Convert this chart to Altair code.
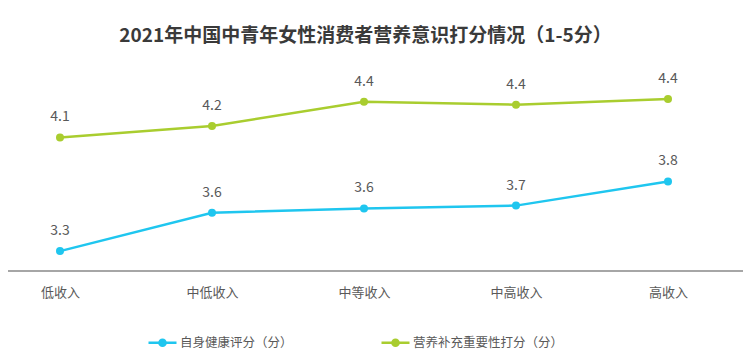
import altair as alt
import pandas as pd

categories = ["低收入", "中低收入", "中等收入", "中高收入", "高收入"]
series_names = ["自身健康评分（分）", "营养补充重要性打分（分）"]
health_scores = [3.34, 3.61, 3.64, 3.66, 3.83]
importance_scores = [4.14, 4.22, 4.39, 4.37, 4.41]
colors = ["#1FC6EF", "#A9CD2F"]

rows = []
for name, vals in zip(series_names, [health_scores, importance_scores]):
    for c, v in zip(categories, vals):
        rows.append({"收入": c, "系列": name, "分数": v})
df = pd.DataFrame(rows)

W, H = 735, 199
FONT = "Noto Sans CJK SC"

x = alt.X("收入:N", sort=categories,
          scale=alt.Scale(type="point", range=[52, 660], padding=0),
          axis=alt.Axis(title=None, domain=False, ticks=False, labelAngle=0,
                        labelFontSize=13, labelColor="#595959", labelFont=FONT,
                        labelPadding=15))
y = alt.Y("分数:Q", scale=alt.Scale(domain=[3.2, 4.6], nice=False, zero=False), axis=None)

legend_path = "M-1,0L1,0M-0.22,0a0.22,0.22 0 1,0 0.44,0a0.22,0.22 0 1,0 -0.44,0"
color = alt.Color("系列:N", sort=series_names,
                  scale=alt.Scale(domain=series_names, range=colors),
                  legend=alt.Legend(title=None, orient="none", direction="horizontal",
                                    legendX=139, legendY=255, padding=0,
                                    symbolType=legend_path, symbolSize=784,
                                    symbolStrokeWidth=2.5,
                                    labelFontSize=12.5, labelColor="#595959",
                                    labelFont=FONT, labelOffset=2,
                                    columnPadding=83))

base = alt.Chart(df).encode(x=x, y=y, color=color)
lines = base.mark_line(strokeWidth=2.5)
points = base.mark_point(filled=True, size=64, opacity=1)
labels = alt.Chart(df).mark_text(dy=-20, fontSize=14, font=FONT, color="#595959").encode(
    x=x, y=y, detail="系列:N", text=alt.Text("分数:Q", format=".1f"))

baseline = alt.Chart(pd.DataFrame({"a": [0]})).mark_rule(
    color="#A6A6A6", strokeWidth=2).encode(
    x=alt.value(0), x2=alt.value(W), y=alt.value(H))

chart = alt.layer(lines, points, labels, baseline).properties(
    width=W, height=H,
    title=alt.TitleParams("2021年中国中青年女性消费者营养意识打分情况（1-5分）",
                          fontSize=19, fontWeight="bold", font=FONT, color="#3A3A3A",
                          anchor="middle", offset=26, dx=-10),
    autosize=alt.AutoSizeParams(type="none"),
    padding={"left": 0, "top": 64, "right": 5, "bottom": 84},
).configure_view(stroke=None)

chart.save("out.html", embed_options={"renderer": "svg", "actions": False})
